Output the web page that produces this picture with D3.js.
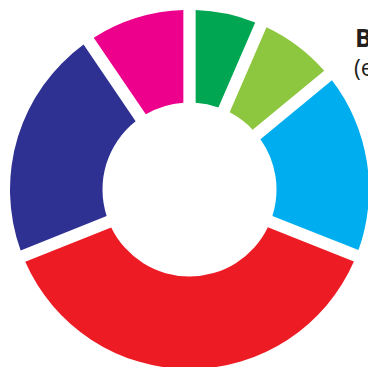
<!DOCTYPE html>
<html>
<head>
<meta charset="utf-8">
<script src="https://cdn.jsdelivr.net/npm/d3@7"></script>
<style>
  html, body { margin: 0; padding: 0; background: #fff; overflow: hidden; }
  svg { display: block; }
</style>
</head>
<body>
<div id="chart"></div>
<script>
// Share of each segment (%), clockwise from 12 o'clock
const categories = ["Segment A", "Segment B", "Segment C", "Segment D", "Segment E", "Segment F"];
const values = [5.8, 6.9, 17.0, 39.4, 21.9, 9.0];
const colors = ["#00A651", "#8DC63F", "#00AEEF", "#ED1C24", "#2E3192", "#EC008C"];
const titleLines = ["Breakdown by segment", "(estimated share, %)"];

const width = 368, height = 367;
const cx = 189.5, cy = 189.5;
const outerR = 179.5, innerR = 87;
const gap = 12.3; // constant white gap between slices, px

const svg = d3.select("#chart").append("svg")
  .attr("width", width)
  .attr("height", height);

const pie = d3.pie()
  .sort(null)
  .value((d, i) => values[i])
  .padAngle(gap / outerR);

const arc = d3.arc()
  .innerRadius(innerR)
  .outerRadius(outerR)
  .padRadius(outerR);

const color = d3.scaleOrdinal().domain(categories).range(colors);

svg.append("g")
  .attr("transform", `translate(${cx},${cy})`)
  .selectAll("path")
  .data(pie(categories))
  .join("path")
  .attr("d", arc)
  .attr("fill", d => color(d.data));

// Title block at the right
const title = svg.append("text")
  .attr("x", 355)
  .attr("font-family", "'Open Sans', 'Liberation Sans', sans-serif")
  .attr("fill", "#231F20");

title.append("tspan")
  .attr("x", 355)
  .attr("y", 46.7)
  .attr("font-size", 25)
  .attr("font-weight", "bold")
  .text(titleLines[0]);

title.append("tspan")
  .attr("x", 354)
  .attr("y", 76)
  .attr("font-size", 23)
  .text(titleLines[1]);
</script>
</body>
</html>
